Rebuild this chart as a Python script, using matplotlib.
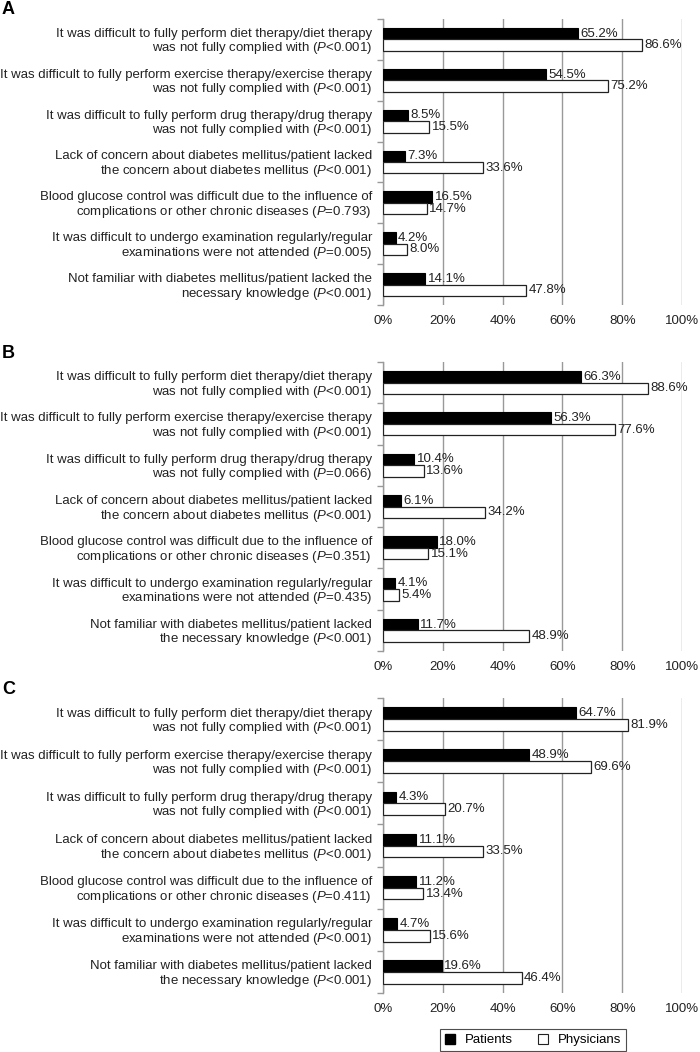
import numpy as np
import matplotlib
matplotlib.use("Agg")
import matplotlib.pyplot as plt
from matplotlib.lines import Line2D

plt.rcParams["font.family"] = ["Liberation Sans", "DejaVu Sans"]
plt.rcParams["mathtext.fontset"] = "custom"
plt.rcParams["mathtext.rm"] = "Liberation Sans"
plt.rcParams["mathtext.it"] = "Liberation Sans:italic"

# ---- datos ----
pacientes_a = [65.2, 54.5, 8.5, 7.3, 16.5, 4.2, 14.1]
medicos_a = [86.6, 75.2, 15.5, 33.6, 14.7, 8.0, 47.8]
pacientes_b = [66.3, 56.3, 10.4, 6.1, 18.0, 4.1, 11.7]
medicos_b = [88.6, 77.6, 13.6, 34.2, 15.1, 5.4, 48.9]
pacientes_c = [64.7, 48.9, 4.3, 11.1, 11.2, 4.7, 19.6]
medicos_c = [81.9, 69.6, 20.7, 33.5, 13.4, 15.6, 46.4]

p_a = ["<0.001", "<0.001", "<0.001", "<0.001", "=0.793", "=0.005", "<0.001"]
p_b = ["<0.001", "<0.001", "=0.066", "<0.001", "=0.351", "=0.435", "<0.001"]
p_c = ["<0.001", "<0.001", "<0.001", "<0.001", "=0.411", "<0.001", "<0.001"]

textos_a = [
    "It was difficult to fully perform diet therapy/diet therapy\nwas not fully complied with",
    "It was difficult to fully perform exercise therapy/exercise therapy\nwas not fully complied with",
    "It was difficult to fully perform drug therapy/drug therapy\nwas not fully complied with",
    "Lack of concern about diabetes mellitus/patient lacked\nthe concern about diabetes mellitus",
    "Blood glucose control was difficult due to the influence of\ncomplications or other chronic diseases",
    "It was difficult to undergo examination regularly/regular\nexaminations were not attended",
    "Not familiar with diabetes mellitus/patient lacked the\nnecessary knowledge",
]
textos_bc = textos_a[:6] + [
    "Not familiar with diabetes mellitus/patient lacked\nthe necessary knowledge",
]

ticks_x = [0, 20, 40, 60, 80, 100]

FS = 9.5
W, H = 700, 1052


def etiquetas(textos, pvals):
    return [t + " ($P$" + p + ")" for t, p in zip(textos, pvals)]


def graficar_panel(fig, rect, letra, pacientes, medicos, labels):
    ax = fig.add_axes(rect)
    y = np.arange(len(labels))
    h = 0.28
    ax.barh(y - h / 2, pacientes, height=h, color="black", edgecolor="black",
            linewidth=0.8, zorder=3)
    ax.barh(y + h / 2, medicos, height=h, color="white", edgecolor="#222222",
            linewidth=0.9, zorder=3)
    for yi, v in zip(y, pacientes):
        ax.text(v + 0.8, yi - h / 2, f"{v:.1f}%", va="center", ha="left",
                fontsize=FS, color="#222222", zorder=4)
    for yi, v in zip(y, medicos):
        ax.text(v + 0.8, yi + h / 2, f"{v:.1f}%", va="center", ha="left",
                fontsize=FS, color="#222222", zorder=4)

    ax.set_xlim(0, 100)
    ax.set_ylim(len(labels) - 0.5, -0.5)
    ax.set_xticks(ticks_x)
    ax.set_xticklabels([f"{t}%" for t in ticks_x], fontsize=FS, color="#222222")
    ax.tick_params(axis="x", length=0, pad=7)
    ax.set_yticks(y)
    ax.set_yticklabels(labels, fontsize=FS, color="#222222", linespacing=1.05)
    ax.tick_params(axis="y", which="major", length=0, pad=8)
    ax.set_yticks(np.arange(-0.5, len(labels), 1), minor=True)
    ax.tick_params(axis="y", which="minor", length=4, color="#999999", width=1)

    ax.grid(axis="x", color="#999999", linewidth=1, zorder=0)
    for lado in ["top", "right", "bottom"]:
        ax.spines[lado].set_visible(False)
    ax.spines["left"].set_color("#999999")
    ax.spines["left"].set_linewidth(1)

    fig.text(2 / W, rect[1] + rect[3] + 9 / H, letra, fontsize=13,
             fontweight="bold", va="center", ha="left")
    return ax


fig = plt.figure(figsize=(7, 10.52), dpi=100)

izq = 383 / W
ancho = 299 / W
graficar_panel(fig, [izq, 1 - 305 / H, ancho, 286 / H], "A",
               pacientes_a, medicos_a, etiquetas(textos_a, p_a))
graficar_panel(fig, [izq, 1 - 651 / H, ancho, 289 / H], "B",
               pacientes_b, medicos_b, etiquetas(textos_bc, p_b))
graficar_panel(fig, [izq, 1 - 993 / H, ancho, 295 / H], "C",
               pacientes_c, medicos_c, etiquetas(textos_bc, p_c))

handles = [
    Line2D([], [], marker="s", linestyle="none", markersize=7,
           markerfacecolor="black", markeredgecolor="black"),
    Line2D([], [], marker="s", linestyle="none", markersize=7,
           markerfacecolor="white", markeredgecolor="#222222", markeredgewidth=0.8),
]
leg = fig.legend(handles, ["Patients", "Physicians"], ncol=2, fontsize=FS,
                 loc="center", bbox_to_anchor=(533 / W, 1 - 1040 / H),
                 frameon=True, fancybox=False, edgecolor="#222222",
                 handlelength=0.8, handletextpad=0.7, columnspacing=1.9,
                 borderpad=0.35, borderaxespad=0)
leg.get_frame().set_linewidth(0.8)

fig.savefig("out.png", dpi=100)
